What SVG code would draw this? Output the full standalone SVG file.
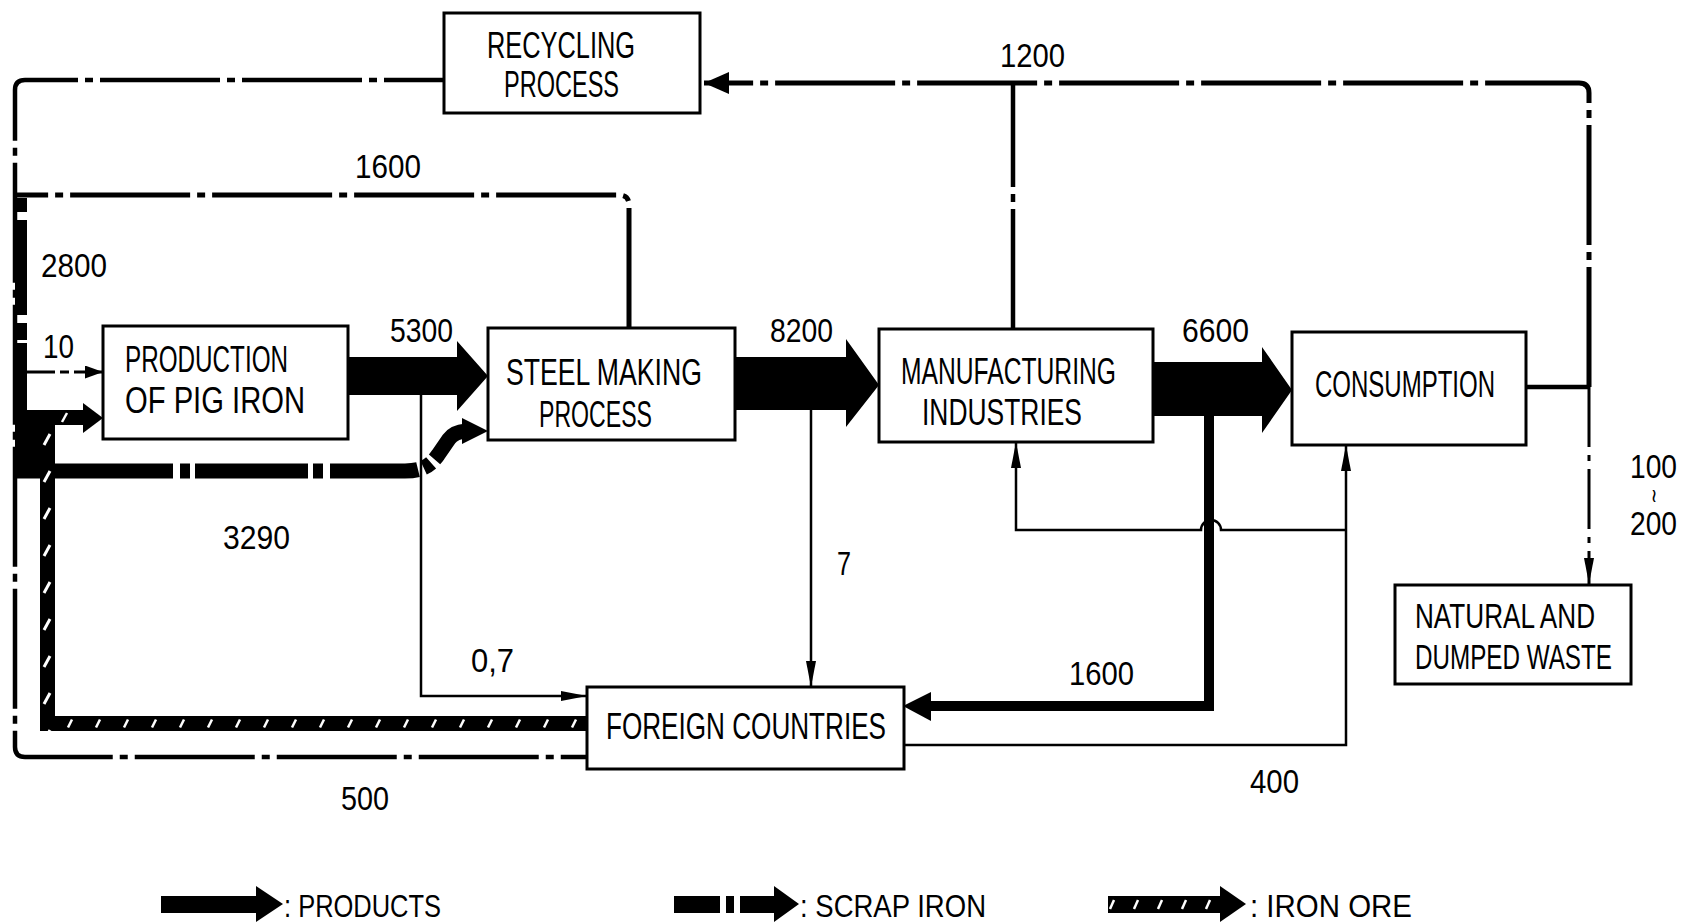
<svg xmlns="http://www.w3.org/2000/svg" width="1684" height="924" viewBox="0 0 1684 924">
<defs>
<style>
.box{fill:#fff;stroke:#000;stroke-width:3}
.t{font-family:"Liberation Sans",Arial,sans-serif;font-size:36px;fill:#000}
.ts{font-family:"Liberation Sans",Arial,sans-serif;font-size:26px;fill:#000}
.n{font-family:"Liberation Sans",Arial,sans-serif;font-size:33px;fill:#000}
.lg{font-family:"Liberation Sans",Arial,sans-serif;font-size:32px;fill:#000}
.blk{fill:#000;stroke:none}
.thin{fill:none;stroke:#000;stroke-width:2.5}
.scrap{fill:none;stroke:#000;stroke-width:5;stroke-dasharray:120 7 8 7}
.scrap4{fill:none;stroke:#000;stroke-width:4.5;stroke-dasharray:120 7 8 7}
.scrap3{fill:none;stroke:#000;stroke-width:3;stroke-dasharray:60 8 6 8}
.prodline{fill:none;stroke:#000;stroke-width:10}
</style>
<marker id="ah" viewBox="0 0 26 10" refX="26" refY="5" markerWidth="26" markerHeight="10" markerUnits="userSpaceOnUse" orient="auto"><path d="M0,0 L26,5 L0,10 Z" fill="#000"/></marker>
<marker id="ahs" viewBox="0 0 18 13" refX="18" refY="6.5" markerWidth="18" markerHeight="13" markerUnits="userSpaceOnUse" orient="auto"><path d="M0,0 L18,6.5 L0,13 Z" fill="#000"/></marker>
<marker id="ahb" viewBox="0 0 25 22" refX="25" refY="11" markerWidth="25" markerHeight="22" markerUnits="userSpaceOnUse" orient="auto"><path d="M0,0 L25,11 L0,22 Z" fill="#000"/></marker>
<pattern id="oreH" patternUnits="userSpaceOnUse" x="0" y="716" width="28" height="15"><rect width="28" height="15" fill="#000"/><line x1="12" y1="11.5" x2="16" y2="3.5" stroke="#fff" stroke-width="2.5"/></pattern>
<pattern id="oreV" patternUnits="userSpaceOnUse" x="40" y="15" width="15" height="37"><rect width="15" height="37" fill="#000"/><line x1="4" y1="23" x2="10" y2="12" stroke="#fff" stroke-width="3"/></pattern>
<pattern id="oreL" patternUnits="userSpaceOnUse" x="1100" y="896" width="24" height="17"><rect width="24" height="17" fill="#000"/><line x1="10" y1="13" x2="14" y2="4" stroke="#fff" stroke-width="2.5"/></pattern>
</defs>

<g id="connectors">
  <path class="scrap4" style="stroke-dashoffset:60" d="M444,80 H25 Q15,80 15,90 V747 Q15,757 25,757 H588"/>
  <path class="scrap" d="M629,328 V205 Q629,195 619,195 H15"/>
  <path d="M1526,387 H1589" fill="none" stroke="#000" stroke-width="4.5"/>
  <path class="scrap" d="M1589,387 V93 Q1589,83 1579,83 H704" marker-end="url(#ahb)"/>
  <path class="scrap4" d="M1013,329 V83"/>
  <path class="scrap3" d="M1589,387 V584" marker-end="url(#ah)"/>
  <path d="M21,198 V478" fill="none" stroke="#000" stroke-width="12" style="stroke-dasharray:14 8 95 8 17 3 300"/>
  <rect class="blk" x="21" y="410" width="34" height="68"/>
  <path d="M15,471 H405 C422,471 430,466 438,455 L449,439 Q454,432 466,431" fill="none" stroke="#000" stroke-width="15" style="stroke-dasharray:158 7 10 5 113 5 10 7 88 6 9 5 60"/>
  <polygon class="blk" points="462,418 488,431 462,444"/>
  <path d="M22,372 H103" fill="none" stroke="#000" stroke-width="3" style="stroke-dasharray:33 5 9 5 60" marker-end="url(#ahs)"/>
  <rect x="40" y="716" width="546" height="15" fill="url(#oreH)"/>
  <rect x="40" y="410" width="15" height="321" fill="url(#oreV)"/>
  <rect class="blk" x="40" y="410" width="45" height="15"/>
  <line x1="62" y1="422" x2="67" y2="413" stroke="#fff" stroke-width="2.5"/>
  <polygon class="blk" points="83,403 103,418 83,433"/>
  <polygon class="blk" points="348,357 457,357 457,341 488,376 457,411 457,395 348,395"/>
  <polygon class="blk" points="735,357 846,357 846,339 879,385 846,427 846,410 735,410"/>
  <polygon class="blk" points="1153,362 1262,362 1262,347 1292,390 1262,433 1262,416 1153,416"/>
  <path class="prodline" d="M1209,416 V706 H930"/>
  <polygon class="blk" points="931,692 903,706 931,721"/>
  <path class="thin" d="M421,395 V696 H587" marker-end="url(#ah)"/>
  <path class="thin" d="M811,410 V687" marker-end="url(#ah)"/>
  <path class="thin" d="M904,745 H1346 V445" marker-end="url(#ah)"/>
  <path class="thin" d="M1346,530 H1221 A10,10 0 0 0 1201,530 H1016 V442" marker-end="url(#ah)"/>
</g>

<g id="recycling">
  <rect class="box" x="444" y="13" width="256" height="100"/>
  <text class="t" x="487" y="58" textLength="148" lengthAdjust="spacingAndGlyphs">RECYCLING</text>
  <text class="t" x="504" y="97" textLength="115" lengthAdjust="spacingAndGlyphs">PROCESS</text>
</g>
<g id="pig-iron">
  <rect class="box" x="103" y="326" width="245" height="113"/>
  <text class="t" x="125" y="372" textLength="163" lengthAdjust="spacingAndGlyphs">PRODUCTION</text>
  <text class="t" x="125" y="413" textLength="180" lengthAdjust="spacingAndGlyphs">OF PIG IRON</text>
</g>
<g id="steel-making">
  <rect class="box" x="488" y="328" width="247" height="112"/>
  <text class="t" x="506" y="385" textLength="196" lengthAdjust="spacingAndGlyphs">STEEL MAKING</text>
  <text class="t" x="539" y="427" textLength="113" lengthAdjust="spacingAndGlyphs">PROCESS</text>
</g>
<g id="manufacturing">
  <rect class="box" x="879" y="329" width="274" height="113"/>
  <text class="t" x="901" y="384" textLength="215" lengthAdjust="spacingAndGlyphs">MANUFACTURING</text>
  <text class="t" x="922" y="425" textLength="160" lengthAdjust="spacingAndGlyphs">INDUSTRIES</text>
</g>
<g id="consumption">
  <rect class="box" x="1292" y="332" width="234" height="113"/>
  <text class="t" x="1315" y="397" textLength="180" lengthAdjust="spacingAndGlyphs">CONSUMPTION</text>
</g>
<g id="natural-waste">
  <rect class="box" x="1395" y="585" width="236" height="99"/>
  <text class="ts" transform="translate(1415,628) scale(1,1.38)" x="0" y="0" textLength="180" lengthAdjust="spacingAndGlyphs">NATURAL AND</text>
  <text class="ts" transform="translate(1415,669) scale(1,1.38)" x="0" y="0" textLength="197" lengthAdjust="spacingAndGlyphs">DUMPED WASTE</text>
</g>
<g id="foreign-countries">
  <rect class="box" x="587" y="687" width="317" height="82"/>
  <text class="t" x="606" y="739" textLength="280" lengthAdjust="spacingAndGlyphs">FOREIGN COUNTRIES</text>
</g>

<g id="labels">
  <text class="n" x="355" y="178" textLength="66" lengthAdjust="spacingAndGlyphs">1600</text>
  <text class="n" x="1000" y="67" textLength="65" lengthAdjust="spacingAndGlyphs">1200</text>
  <text class="n" x="41" y="277" textLength="66" lengthAdjust="spacingAndGlyphs">2800</text>
  <text class="n" x="43" y="358" textLength="31" lengthAdjust="spacingAndGlyphs">10</text>
  <text class="n" x="390" y="342" textLength="63" lengthAdjust="spacingAndGlyphs">5300</text>
  <text class="n" x="770" y="342" textLength="63" lengthAdjust="spacingAndGlyphs">8200</text>
  <text class="n" x="1182" y="342" textLength="67" lengthAdjust="spacingAndGlyphs">6600</text>
  <text class="n" x="223" y="549" textLength="67" lengthAdjust="spacingAndGlyphs">3290</text>
  <text class="n" x="837" y="575" textLength="14" lengthAdjust="spacingAndGlyphs">7</text>
  <text class="n" x="471" y="672" textLength="43" lengthAdjust="spacingAndGlyphs">0,7</text>
  <text class="n" x="1069" y="685" textLength="65" lengthAdjust="spacingAndGlyphs">1600</text>
  <text class="n" x="1250" y="793" textLength="49" lengthAdjust="spacingAndGlyphs">400</text>
  <text class="n" x="341" y="810" textLength="48" lengthAdjust="spacingAndGlyphs">500</text>
  <text class="n" x="1630" y="478" textLength="47" lengthAdjust="spacingAndGlyphs">100</text>
  <text x="1654" y="502" text-anchor="middle" style="font-family:'DejaVu Sans',sans-serif;font-size:19px" fill="#000">≀</text>
  <text class="n" x="1630" y="535" textLength="47" lengthAdjust="spacingAndGlyphs">200</text>
</g>

<g id="legend">
  <polygon class="blk" points="161,896 256,896 256,886 283,904 256,922 256,913 161,913"/>
  <text class="lg" x="284" y="917" textLength="157" lengthAdjust="spacingAndGlyphs">: PRODUCTS</text>
  <rect class="blk" x="674" y="896" width="46" height="17"/>
  <rect class="blk" x="726" y="896" width="8" height="17"/>
  <polygon class="blk" points="740,896 774,896 774,886 799,904 774,922 774,913 740,913"/>
  <text class="lg" x="800" y="917" textLength="186" lengthAdjust="spacingAndGlyphs">: SCRAP IRON</text>
  <rect x="1108" y="896" width="114" height="17" fill="url(#oreL)"/>
  <polygon class="blk" points="1220,886 1246,904 1220,922"/>
  <text class="lg" x="1250" y="917" textLength="162" lengthAdjust="spacingAndGlyphs">: IRON ORE</text>
</g>
</svg>
